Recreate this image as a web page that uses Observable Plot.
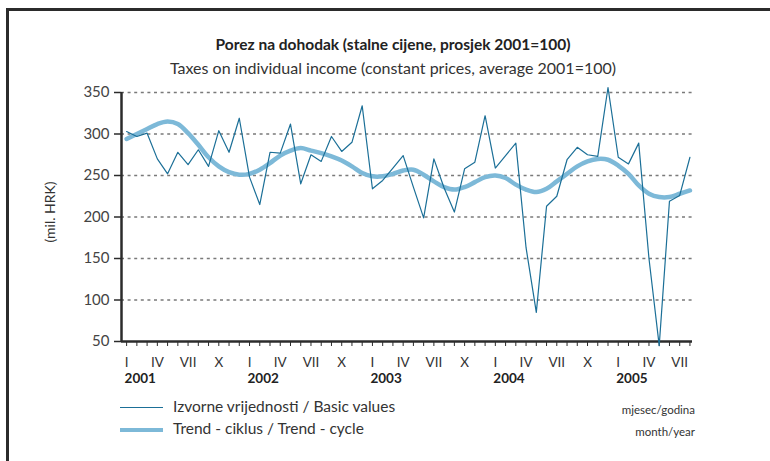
<!DOCTYPE html>
<html>
<head>
<meta charset="utf-8">
<script src="https://cdn.jsdelivr.net/npm/d3@7"></script>
<script src="https://cdn.jsdelivr.net/npm/@observablehq/plot@0.6"></script>
<style>
  html, body { margin: 0; padding: 0; background: #fff; overflow: hidden; }
  body { width: 770px; height: 461px; position: relative; font-family: Lato, "Open Sans", sans-serif; color: #333; }
  #frame { position: absolute; left: 6px; top: 8px; width: 820px; height: 520px; border-left: 3px solid #2b2b2b; border-top: 3px solid #2b2b2b; }
  .t { position: absolute; left: 8px; width: 770px; text-align: center; white-space: nowrap; }
  #title { top: 35px; font-size: 15.5px; font-weight: bold; color: #222; }
  #subtitle { top: 58px; font-size: 16px; color: #333; }
  #chart { position: absolute; left: 0; top: 80px; }
  #ylab { position: absolute; left: 49px; top: 212px; transform: translate(-50%, -50%) rotate(-90deg); font-size: 14px; white-space: nowrap; color: #333; }
  .leg { position: absolute; font-size: 15.5px; white-space: nowrap; color: #333; }
  .sw { position: absolute; left: 120px; width: 43px; }
  .rt { position: absolute; right: 75px; font-size: 11.5px; text-align: right; white-space: nowrap; color: #333; }
</style>
</head>
<body>
<div id="frame"></div>
<div class="t" id="title">Porez na dohodak (stalne cijene, prosjek 2001=100)</div>
<div class="t" id="subtitle">Taxes on individual income (constant prices, average 2001=100)</div>
<div id="ylab">(mil. HRK)</div>
<div id="chart"></div>
<div class="sw" style="top:407px;border-top:1.3px solid #1b6f97;"></div>
<div class="sw" style="top:428px;border-top:4.5px solid #7db9d8;"></div>
<div class="leg" style="left:173px;top:397px;">Izvorne vrijednosti / Basic values</div>
<div class="leg" style="left:173px;top:419px;">Trend - ciklus / Trend - cycle</div>
<div class="rt" style="top:403px;">mjesec/godina</div>
<div class="rt" style="top:425px;">month/year</div>
<script>
// Month index 0 = January 2001 ... 55 = August 2005
const basicValues = [303, 297, 301, 270, 252, 278, 263, 281, 261, 304, 278, 319,
  248, 215, 278, 277, 312, 240, 275, 267, 297, 279, 290, 334,
  234, 244, 259, 274, 236, 199, 270, 235, 206, 258, 266, 322,
  259, 274, 289, 163, 85, 213, 225, 269, 284, 275, 273, 356,
  272, 264, 289, 150, 45, 219, 226, 272];
const trendValues = [294, 300, 306, 312, 315, 312, 301, 287, 272, 261, 254, 251,
  252, 257, 265, 274, 280, 283, 280, 277, 273, 268, 261, 253,
  249, 249, 252, 256, 257, 251, 243, 236, 233, 236, 242, 248,
  250, 247, 239, 233, 230, 234, 243, 252, 261, 267, 270, 269,
  262, 252, 238, 228, 224, 224, 228, 232];
const quarterLabels = ["I", "IV", "VII", "X"];
const yearLabels = ["2001", "2002", "2003", "2004", "2005"];
const yTicks = [50, 100, 150, 200, 250, 300, 350];

const data = basicValues.map((v, i) => ({i, basic: v, trend: trendValues[i]}));
const monthIdx = data.map(d => d.i);
const quarterIdx = monthIdx.filter(i => i % 3 === 0);
const yearIdx = yearLabels.map((y, k) => k * 12);

const chart = Plot.plot({
  width: 770,
  height: 310,
  marginLeft: 121,
  marginRight: 78,
  marginTop: 12,
  marginBottom: 49,
  style: {fontFamily: "Lato, 'Open Sans', sans-serif", color: "#333", background: "transparent"},
  x: {type: "linear", domain: [-0.5, 55.25], axis: null, label: null},
  y: {domain: [50, 350], axis: null, label: null},
  marks: [
    Plot.ruleY(yTicks.filter(t => t > 50), {stroke: "#7a7a7a", strokeWidth: 1.6, strokeDasharray: "3,3.6"}),
    Plot.axisY({ticks: yTicks, label: null, tickSize: 7, tickPadding: 5, fontSize: 15, tickFormat: d => String(d), stroke: "#2b2b2b", strokeWidth: 1.5, fill: "#444"}),
    Plot.axisX({ticks: monthIdx, label: null, tickSize: 5, tickFormat: () => "", stroke: "#2b2b2b", strokeWidth: 1}),
    Plot.axisX({ticks: quarterIdx, label: null, tickSize: 0, tickPadding: 16, fontSize: 13.5, fill: "#333",
      tickFormat: i => quarterLabels[(i % 12) / 3]}),
    Plot.axisX({ticks: yearIdx, label: null, tickSize: 0, tickPadding: 32, fontSize: 13.5, fontWeight: "bold", fill: "#222",
      textAnchor: "start", dx: -2, tickFormat: i => yearLabels[i / 12]}),
    Plot.ruleX([-0.5], {stroke: "#2b2b2b", strokeWidth: 2.5}),
    Plot.ruleY([50], {stroke: "#2b2b2b", strokeWidth: 2.5}),
    Plot.line(data, {x: "i", y: "trend", stroke: "#7db9d8", strokeWidth: 4.5, curve: "catmull-rom"}),
    Plot.line(data, {x: "i", y: "basic", stroke: "#1b6f97", strokeWidth: 1.2, clip: false})
  ]
});
document.getElementById("chart").appendChild(chart);
</script>
</body>
</html>
